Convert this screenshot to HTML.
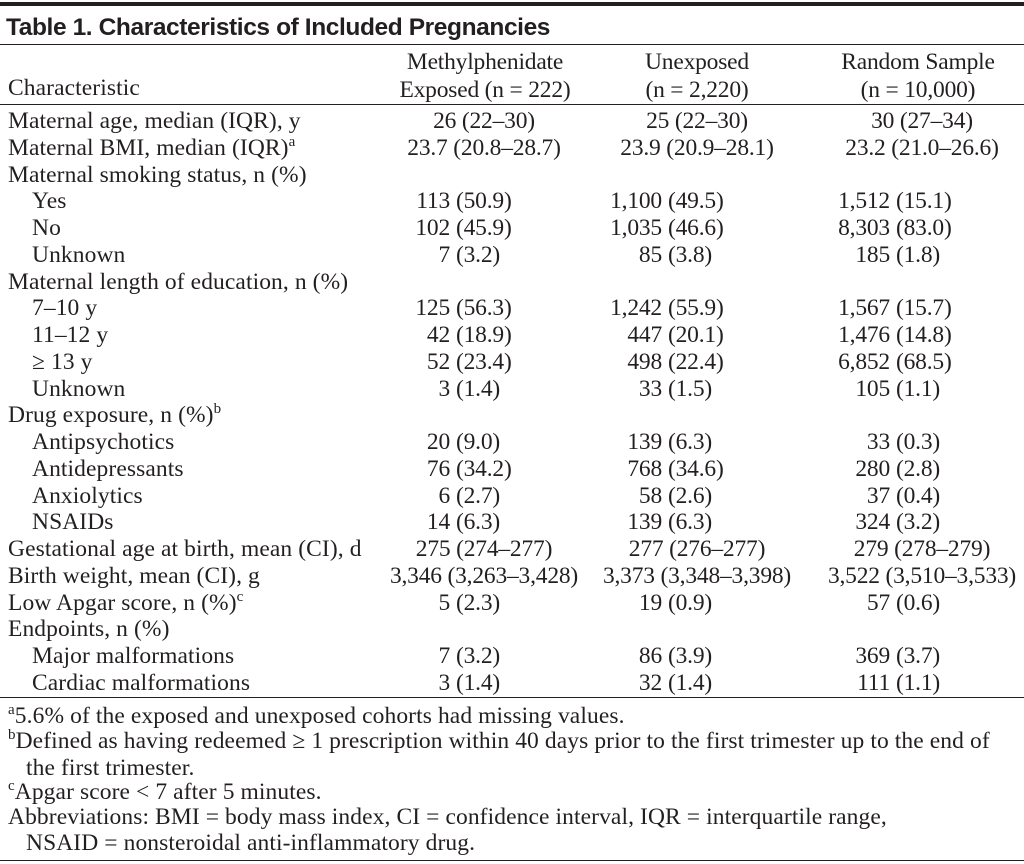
<!DOCTYPE html>
<html><head><meta charset="utf-8">
<style>
body{margin:0;width:1024px;height:864px;background:#fff;overflow:hidden;position:relative;font-family:"Liberation Serif",serif;color:#231f20}
.rule{position:absolute;left:0;width:1024px;background:#231f20}
.t{position:absolute;font-size:23.5px;letter-spacing:0.1px;white-space:nowrap;line-height:28px}
.c{letter-spacing:-0.2px}
.title{position:absolute;left:6px;top:14px;font-family:"Liberation Sans",sans-serif;font-weight:bold;font-size:24.5px;letter-spacing:-0.4px;white-space:nowrap}
sup{font-size:15px;vertical-align:0;position:relative;top:-9px}
.num{position:absolute;text-align:right;width:140px}
.par{position:absolute}
</style></head><body>
<div class="rule" style="top:2px;height:4px"></div>
<div class="title">Table 1. Characteristics of Included Pregnancies</div>
<div class="rule" style="top:44px;height:1px"></div>
<div class="t" style="left:8px;top:74px">Characteristic</div>
<div class="t c" style="left:375px;width:220px;text-align:center;top:48px">Methylphenidate<br>Exposed (n = 222)</div>
<div class="t c" style="left:587px;width:220px;text-align:center;top:48px">Unexposed<br>(n = 2,220)</div>
<div class="t c" style="left:808px;width:220px;text-align:center;top:48px">Random Sample<br>(n = 10,000)</div>
<div class="rule" style="top:104px;height:1px"></div>
<div id="rows"></div>
<div class="rule" style="top:697px;height:1px"></div>
<div class="t" style="left:8px;top:702px"><sup>a</sup>5.6% of the exposed and unexposed cohorts had missing values.</div>
<div class="t" style="left:8px;top:729px;line-height:24px"><sup>b</sup>Defined as having redeemed ≥ 1 prescription within 40 days prior to the first trimester up to the end of<br><span style="padding-left:18px">the first trimester.</span></div>
<div class="t" style="left:8px;top:778px"><sup>c</sup>Apgar score &lt; 7 after 5 minutes.</div>
<div class="t" style="left:8px;top:804px;line-height:26px">Abbreviations: BMI = body mass index, CI = confidence interval, IQR = interquartile range,<br><span style="padding-left:18px">NSAID = nonsteroidal anti-inflammatory drug.</span></div>
<div class="rule" style="top:860px;height:1px"></div>
<script>
const labels=["Maternal age, median (IQR), y","Maternal BMI, median (IQR)<sup>a</sup>","Maternal smoking status, n (%)","Yes","No","Unknown","Maternal length of education, n (%)","7–10 y","11–12 y","≥ 13 y","Unknown","Drug exposure, n (%)<sup>b</sup>","Antipsychotics","Antidepressants","Anxiolytics","NSAIDs","Gestational age at birth, mean (CI), d","Birth weight, mean (CI), g","Low Apgar score, n (%)<sup>c</sup>","Endpoints, n (%)","Major malformations","Cardiac malformations"];
const indent=[0,0,0,1,1,1,0,1,1,1,1,0,1,1,1,1,0,0,0,0,1,1];
const exposed=["26 (22–30)","23.7 (20.8–28.7)","","113 (50.9)","102 (45.9)","7 (3.2)","","125 (56.3)","42 (18.9)","52 (23.4)","3 (1.4)","","20 (9.0)","76 (34.2)","6 (2.7)","14 (6.3)","275 (274–277)","3,346 (3,263–3,428)","5 (2.3)","","7 (3.2)","3 (1.4)"];
const unexposed=["25 (22–30)","23.9 (20.9–28.1)","","1,100 (49.5)","1,035 (46.6)","85 (3.8)","","1,242 (55.9)","447 (20.1)","498 (22.4)","33 (1.5)","","139 (6.3)","768 (34.6)","58 (2.6)","139 (6.3)","277 (276–277)","3,373 (3,348–3,398)","19 (0.9)","","86 (3.9)","32 (1.4)"];
const random=["30 (27–34)","23.2 (21.0–26.6)","","1,512 (15.1)","8,303 (83.0)","185 (1.8)","","1,567 (15.7)","1,476 (14.8)","6,852 (68.5)","105 (1.1)","","33 (0.3)","280 (2.8)","37 (0.4)","324 (3.2)","279 (278–279)","3,522 (3,510–3,533)","57 (0.6)","","369 (3.7)","111 (1.1)"];
const cols=[exposed,unexposed,random];
const centered=[0,1,16,17];
const parX=[450,662,890];
const cen=[484,697,922];
const root=document.getElementById('rows');
labels.forEach((lab,i)=>{
  const top=107+i*26.75;
  const d=document.createElement('div');
  d.className='t';
  
  
  d.style.left=(indent[i]?32:8)+'px';d.style.top=top+'px';
  d.innerHTML=lab;root.appendChild(d);
  cols.forEach((c,j)=>{
    const v=c[i]; if(!v) return;
    const cell=document.createElement('div');
    cell.className='t c';
    
    
    cell.style.top=top+'px';
    if(centered.includes(i)){
      cell.style.left=(cen[j]-120)+'px';cell.style.width='240px';cell.style.textAlign='center';
      cell.textContent=v;
    }else{
      const k=v.indexOf(' (');
      cell.style.left='0px';cell.style.width='1024px';
      const a=document.createElement('span');a.className='num';a.style.left=(parX[j]-140)+'px';a.textContent=v.slice(0,k);
      const b=document.createElement('span');b.className='par';b.style.left=(parX[j]+6)+'px';b.textContent=v.slice(k+1);
      cell.appendChild(a);cell.appendChild(b);
    }
    root.appendChild(cell);
  });
});
</script>
</body></html>
